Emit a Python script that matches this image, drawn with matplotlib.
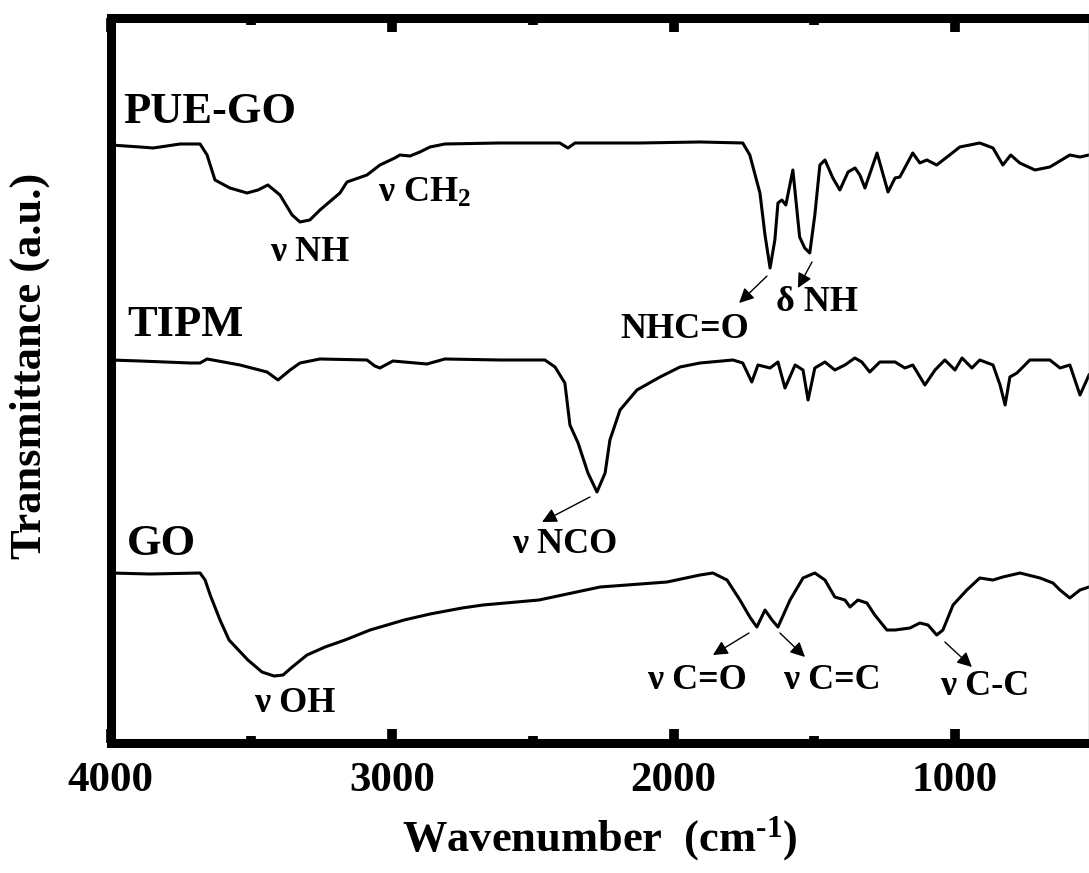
import matplotlib
matplotlib.use("Agg")
import matplotlib.pyplot as plt
from matplotlib.ticker import MultipleLocator

plt.rcParams['font.family'] = ['Liberation Serif', 'DejaVu Serif']
plt.rcParams['font.weight'] = 'bold'
plt.rcParams['mathtext.fontset'] = 'custom'
plt.rcParams['mathtext.rm'] = 'Liberation Serif:bold'
plt.rcParams['mathtext.bf'] = 'Liberation Serif:bold'
plt.rcParams['mathtext.default'] = 'bf'

# FTIR spectra (wavenumber in cm-1, transmittance in a.u., already offset)
pue_wn = [4000, 3895, 3849, 3824, 3753, 3682, 3657, 3629, 3576, 3515, 3476, 3441,
          3398, 3355, 3327, 3292, 3256, 3185, 3160, 3089, 3043, 2990, 2972, 2936,
          2901, 2865, 2812, 2617, 2404, 2375, 2350, 2119, 1906, 1754, 1729, 1693,
          1675, 1657, 1640, 1629, 1615, 1601, 1576, 1552, 1534, 1516, 1498, 1480,
          1462, 1434, 1409, 1380, 1355, 1338, 1320, 1277, 1238, 1213, 1196, 1150,
          1125, 1100, 1065, 1019, 983, 912, 865, 830, 802, 770, 716, 663, 592,
          556, 524]
pue_t = [598, 596, 595, 596, 599, 599, 588, 563, 555, 550, 553, 558,
         548, 528, 521, 523, 533, 550, 561, 568, 578, 585, 588, 587,
         591, 596, 599, 600, 600, 595, 600, 600, 601, 600, 588, 550,
         508, 475, 503, 540, 543, 538, 573, 506, 495, 490, 528, 578,
         583, 565, 553, 571, 575, 568, 555, 590, 551, 565, 566, 590,
         580, 583, 578, 588, 596, 600, 595, 578, 588, 580, 573, 576, 588,
         586, 588]

tipm_wn = [4000, 3895, 3718, 3682, 3657, 3540, 3444, 3405, 3362, 3327, 3256, 3089,
           3061, 3043, 2997, 2876, 2812, 2617, 2457, 2421, 2386, 2368, 2339, 2304,
           2272, 2243, 2226, 2190, 2130, 2048, 1977, 1906, 1789, 1754, 1722, 1700,
           1657, 1629, 1604, 1568, 1540, 1522, 1498, 1462, 1427, 1391, 1356, 1331,
           1303, 1267, 1213, 1178, 1150, 1107, 1071, 1036, 1000, 975, 940, 912,
           865, 840, 822, 805, 780, 734, 663, 627, 592, 556, 524]
tipm_t = [383, 382, 380, 380, 384, 378, 371, 363, 373, 380, 384, 383,
          377, 375, 382, 379, 384, 383, 383, 376, 360, 318, 300, 270,
          251, 270, 303, 333, 353, 366, 376, 380, 383, 380, 361, 378,
          375, 381, 355, 378, 373, 343, 375, 381, 373, 378, 385, 381,
          371, 381, 381, 375, 378, 358, 373, 383, 373, 385, 375, 383,
          378, 358, 338, 366, 370, 383, 383, 375, 378, 348, 368]

go_wn = [4000, 3860, 3682, 3664, 3646, 3611, 3579, 3512, 3462, 3419, 3387, 3359,
         3302, 3238, 3167, 3078, 2957, 2865, 2751, 2677, 2478, 2261, 2023, 1906,
         1860, 1810, 1764, 1729, 1704, 1675, 1650, 1629, 1586, 1540, 1498, 1462,
         1427, 1391, 1373, 1345, 1313, 1285, 1242, 1213, 1160, 1125, 1096, 1065,
         1043, 1007, 958, 912, 865, 830, 769, 698, 652, 627, 592, 556, 524]
go_t = [170, 169, 170, 163, 148, 123, 103, 83, 71, 67, 68, 75,
        88, 96, 103, 113, 123, 129, 135, 138, 143, 156, 161, 168,
        170, 163, 143, 126, 116, 133, 123, 116, 143, 165, 170, 163,
        146, 143, 136, 143, 140, 128, 113, 113, 115, 120, 118, 108,
        113, 138, 153, 165, 163, 166, 170, 165, 160, 153, 145, 153, 156]

# sample names: (text, wavenumber, height)
sample_labels = [("PUE-GO", 3956, 631), ("TIPM", 3941, 418), ("GO", 3941, 199)]

# band labels without arrows
band_labels = [("ν NH", 3291, 490), ("ν CH$_{2}$", 2883, 550), ("ν OH", 3345, 40)]

# band labels with arrows: (text, text_x, text_y, tail_x, tail_y, head_x, head_y)
arrow_labels = [
    ("NHC=O", 1960, 413, 1668, 467, 1767, 440),
    ("δ NH", 1490, 440, 1508, 481, 1558, 455),
    ("ν NCO", 2386, 199, 2297, 246, 2467, 221),
    ("ν C=O", 1917, 63, 1732, 110, 1860, 88),
    ("ν C=C", 1437, 63, 1622, 110, 1533, 86),
    ("ν C-C", 894, 57, 1036, 101, 940, 76),
]

fig = plt.figure(figsize=(10.89, 8.73), dpi=100)
ax = fig.add_axes([0.1015, 0.1489, 0.8985, 0.8305])

for wn, t in [(pue_wn, pue_t), (tipm_wn, tipm_t), (go_wn, go_t)]:
    ax.plot(wn, t, color='black', lw=2.2, solid_joinstyle='round')

for txt, x, y in sample_labels:
    ax.text(x, y, txt, fontsize=32, fontweight='bold', ha='left', va='center')

for txt, x, y in band_labels:
    ax.text(x, y, txt, fontsize=26, fontweight='bold', ha='center', va='center')

for txt, tx, ty, x0, y0, x1, y1 in arrow_labels:
    ax.text(tx, ty, txt, fontsize=26, fontweight='bold', ha='center', va='center')
    ax.annotate('', xy=(x1, y1), xytext=(x0, y0),
                arrowprops=dict(arrowstyle='-|>', color='black', lw=1.0,
                                mutation_scale=22, shrinkA=0, shrinkB=0))

ax.set_xlim(4000, 524)
ax.set_ylim(0, 725)

ax.xaxis.set_major_locator(MultipleLocator(1000))
ax.xaxis.set_minor_locator(MultipleLocator(500))
ax.tick_params(axis='x', which='major', direction='in', length=10, width=7,
               top=True, labelsize=31, pad=14)
ax.tick_params(axis='x', which='minor', direction='in', length=5, width=7, top=True)
ax.set_yticks([])

for side in ['left', 'bottom', 'top']:
    ax.spines[side].set_linewidth(6.5)
ax.spines['right'].set_linewidth(1.0)
ax.spines['right'].set_color('#999999')

ax.set_xlabel(r'Wavenumber  (cm$^{\text{-1}}$)', fontsize=32, fontweight='bold', labelpad=10)
ax.set_ylabel('Transmittance (a.u.)', fontsize=32, fontweight='bold')
ax.yaxis.set_label_coords(-0.062, 0.52)

fig.savefig('out.png', dpi=100)
